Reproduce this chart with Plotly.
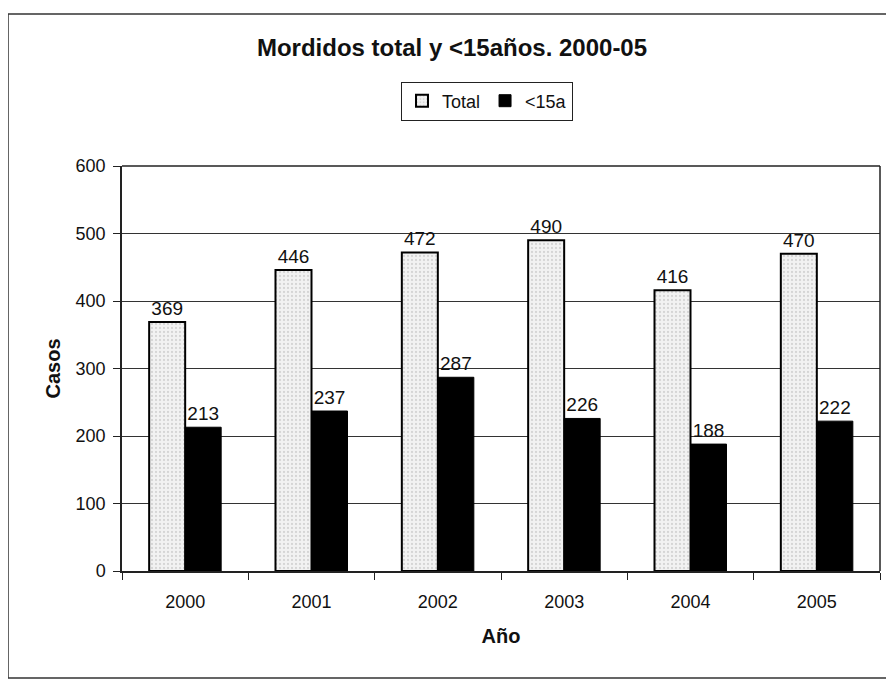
import plotly.graph_objects as go

years = ["2000", "2001", "2002", "2003", "2004", "2005"]
total = [369, 446, 472, 490, 416, 470]
menores15 = [213, 237, 287, 226, 188, 222]

font_family = "Liberation Sans, Arial, sans-serif"

# plot area in figure pixels
L, R, T, B = 114, 872, 158, 563
PW, PH = R - L, B - T

fig = go.Figure()
fig.add_trace(go.Bar(
    x=years, y=total, name="Total",
    marker=dict(color="#ececec", line=dict(color="black", width=2),
                pattern=dict(shape=".", fgcolor="#b8b8b8", bgcolor="#f2f2f2", size=4, solidity=0.25)),
    text=[str(v) for v in total], textposition="outside",
    textfont=dict(size=19, color="#111"), cliponaxis=False,
))
fig.add_trace(go.Bar(
    x=years, y=menores15, name="<15a",
    marker=dict(color="black", line=dict(color="black", width=1)),
    text=[str(v) for v in menores15], textposition="outside",
    textfont=dict(size=19, color="#111"), cliponaxis=False,
))

fig.update_layout(
    width=894, height=680,
    paper_bgcolor="white", plot_bgcolor="white",
    font=dict(family=font_family, size=18, color="#111"),
    margin=dict(l=L, r=894 - R, t=T, b=680 - B, autoexpand=False),
    barmode="group", bargap=0.43, bargroupgap=0,
    title=dict(text="<b>Mordidos total y <15años. 2000-05</b>", x=444 / 894, xref="container",
               xanchor="center", y=1 - 40 / 680, yref="container", yanchor="middle",
               font=dict(size=24)),
    showlegend=True,
    legend=dict(orientation="h", x=479 / 894, xanchor="center", xref="container",
                y=1 - 93 / 680, yref="container", yanchor="middle",
                bordercolor="#222", borderwidth=1, font=dict(size=18),
                itemwidth=30, tracegroupgap=0),
    xaxis=dict(showline=True, linecolor="#222", linewidth=1.5, ticks="outside", tickson="boundaries",
               ticklen=7, tickcolor="#222", tickfont=dict(size=18), ticklabelstandoff=14,
               title=dict(text="<b>Año</b>", font=dict(size=20), standoff=18)),
    yaxis=dict(range=[0, 600], dtick=100, showline=True, linecolor="#222", linewidth=1.5,
               ticks="outside", ticklen=7, tickcolor="#222", tickfont=dict(size=18),
               ticklabelstandoff=4,
               showgrid=True, gridcolor="#333", gridwidth=1.2, zeroline=False,
               title=dict(text="<b>Casos</b>", font=dict(size=20), standoff=10)),
    shapes=[
        dict(type="line", xref="paper", yref="paper", x0=0, x1=1, y0=1, y1=1,
             line=dict(color="#222", width=1.5)),
        dict(type="line", xref="paper", yref="paper", x0=1, x1=1, y0=0, y1=1,
             line=dict(color="#222", width=1.5)),
        dict(type="rect", xref="paper", yref="paper",
             x0=(0 - L) / PW, x1=(885 - L) / PW,
             y0=(B - 670) / PH, y1=(B - 6) / PH,
             line=dict(color="#333", width=1.5), layer="below"),
    ],
)

fig.write_html("out.html")
